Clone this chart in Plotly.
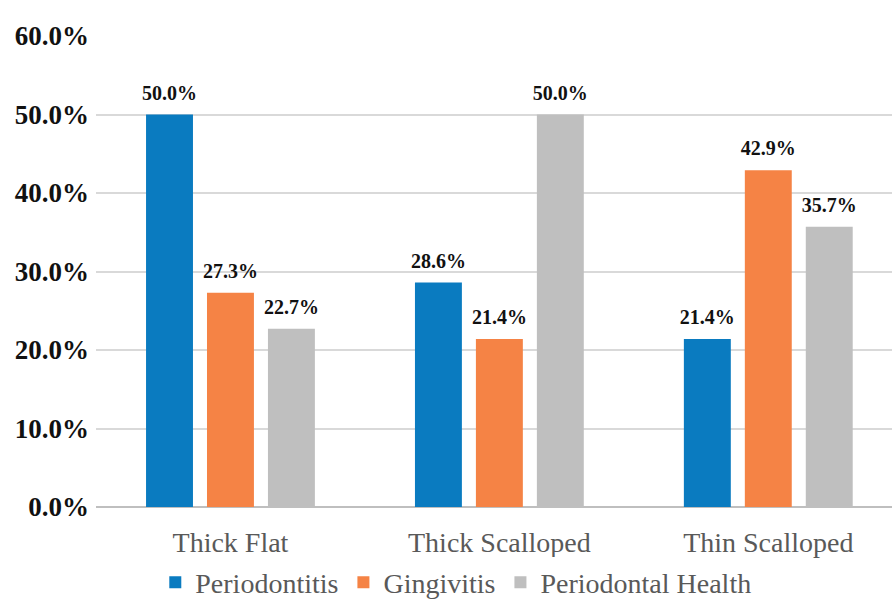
import plotly.graph_objects as go

categories = ["Thick Flat", "Thick Scalloped", "Thin Scalloped"]
periodontitis = [50.0, 28.6, 21.4]
gingivitis = [27.3, 21.4, 42.9]
periodontal_health = [22.7, 50.0, 35.7]
y_ticks = [0, 10, 20, 30, 40, 50, 60]
y_tick_labels = [f"{v:.1f}%" for v in y_ticks]

series = [
    ("Periodontitis", periodontitis, "#0A7BC0"),
    ("Gingivitis", gingivitis, "#F58345"),
    ("Periodontal Health", periodontal_health, "#BFBFBF"),
]

SERIF = "Liberation Serif"

fig = go.Figure()
for name, vals, color in series:
    fig.add_trace(go.Bar(
        x=categories, y=vals, name=name,
        marker=dict(color=color, line=dict(width=0)),
        offsetgroup=name,
    ))
for name, vals, color in series:
    fig.add_trace(go.Scatter(
        x=categories, y=vals, name=name, showlegend=False,
        mode="markers+text", offsetgroup=name,
        marker=dict(size=14, color="rgba(0,0,0,0)"),
        texttemplate="%{y:.1f}%", textposition="top center",
        textfont=dict(family=SERIF, size=20, color="#111111", weight="bold"),
        cliponaxis=False, hoverinfo="skip",
    ))

fig.update_layout(
    width=892, height=603,
    margin=dict(l=96, r=0, t=36, b=96),
    paper_bgcolor="white", plot_bgcolor="white",
    font=dict(family=SERIF, color="#595959"),
    barmode="group", bargap=0.32, bargroupgap=0.23,
    scattermode="group", scattergap=0.32,
    showlegend=True,
    legend=dict(orientation="h", x=0.452, xanchor="center",
                yref="container", y=0.034, yanchor="middle",
                font=dict(family=SERIF, size=28, color="#595959"),
                itemwidth=30, traceorder="normal"),
    xaxis=dict(range=[-0.5, 2.46], showgrid=False, showline=False, ticks="",
               tickfont=dict(family=SERIF, size=28, color="#595959"),
               ticklabelstandoff=16, automargin=False),
    yaxis=dict(range=[0, 60], tickvals=y_ticks, ticktext=y_tick_labels,
               showgrid=True, gridcolor="#D9D9D9", gridwidth=2,
               zeroline=True, zerolinecolor="#BFBFBF", zerolinewidth=2,
               showline=False, ticks="",
               tickfont=dict(family=SERIF, size=27, color="#111111", weight="bold"),
               ticklabelstandoff=6, automargin=False),
)

fig.write_html("out.html")
